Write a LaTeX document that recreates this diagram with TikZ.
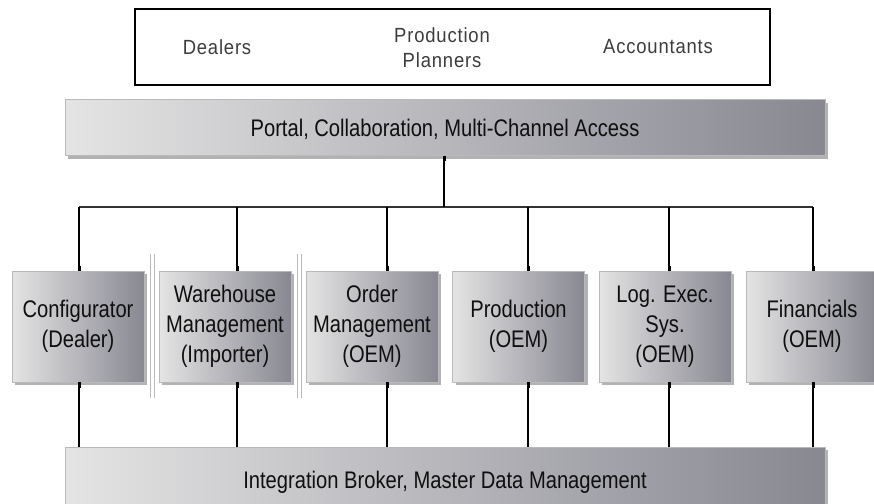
\documentclass[tikz,border=0pt]{standalone}
\usepackage{fontspec}
\setmainfont{Liberation Sans}[FakeStretch=0.84]
\newfontfamily\topfont{Liberation Sans}[FakeStretch=0.9,LetterSpace=4]
\usetikzlibrary{shadows}
\definecolor{glight}{RGB}{228,228,228}
\definecolor{gdark}{RGB}{136,136,146}
\definecolor{txt}{RGB}{15,15,15}
\definecolor{toptxt}{RGB}{60,60,60}
\tikzset{
  gbox/.style={draw=gray!55, line width=0.6pt, left color=glight, right color=gdark,
    inner sep=0pt, text=txt, align=center,
    font=\fontsize{24}{30}\selectfont,
    drop shadow={shadow xshift=3pt, shadow yshift=-3pt, fill=black, opacity=0.3}},
  sysbox/.style={gbox, minimum width=132pt, minimum height=111pt},
  bar/.style={gbox, minimum width=760pt},
  bartext/.style={inner sep=0pt, text=txt, font=\fontsize{24}{30}\selectfont},
  toplabel/.style={inner sep=0pt, text=toptxt, align=center,
    font=\topfont\fontsize{20.5}{25}\selectfont},
  conn/.style={line width=1.3pt, black},
  stub/.style={line width=3pt, black},
  sep/.style={line width=0.9pt, gray!55}
}
\begin{document}
\begin{tikzpicture}[x=1pt, y=-1pt]
\useasboundingbox (0,0) rectangle (874,503);
% top box
\node[draw=black, line width=1.2pt, minimum width=635pt, minimum height=76pt, inner sep=0pt] (users) at (452.5,47) {};
\node[toplabel] (dealers) at (217,47) {Dealers};
\node[toplabel] (planners) at (442,48) {Production\\Planners};
\node[toplabel] (acct) at (658,47) {Accountants};
% portal bar
\node[bar, minimum height=56pt] (portal) at (445,127.5) {};
\node[bartext] (portaltxt) at (445,129) {Portal, Collaboration, Multi-Channel Access};
% system boxes
\node[sysbox] (c1) at (78,326.5) {Configurator\\(Dealer)};
\node[sysbox] (c2) at (225,326.5) {Warehouse\\Management\\(Importer)};
\node[sysbox] (c3) at (372,326.5) {Order\\Management\\(OEM)};
\node[sysbox] (c4) at (518.5,326.5) {Production\\(OEM)};
\node[sysbox] (c5) at (665,326.5) {Log. Exec.\\Sys.\\(OEM)};
\node[sysbox] (c6) at (812,326.5) {Financials\\(OEM)};
% bottom bar
\node[bar, minimum height=68pt] (broker) at (445,481) {};
\node[bartext, anchor=base] (brokertxt) at (445,488) {Integration Broker, Master Data Management};
% bus coordinates
\coordinate (b1) at (79,207);
\coordinate (b2) at (237,207);
\coordinate (b3) at (387,207);
\coordinate (b4) at (528,207);
\coordinate (b5) at (669,207);
\coordinate (b6) at (813,207);
\coordinate (bp) at (444,207);
% bus
\draw[conn, black!80] (b1) -- (b6);
\draw[conn] (portal.south -| bp) -- (bp);
\draw[stub] (portal.south -| bp) -- ++(0,5);
% drops
\foreach \i in {1,...,6}{
  \draw[conn] (b\i) -- (b\i |- c\i.north);
  \draw[stub] (b\i |- c\i.north) -- ++(0,-5);
  \draw[conn] (b\i |- c\i.south) -- (b\i |- broker.north);
  \draw[stub] (b\i |- c\i.south) -- ++(0,6);
}
% separators
\draw[sep] (150,254) -- (150,398);
\draw[sep] (154,254) -- (154,398);
\draw[sep] (297,254) -- (297,398);
\draw[sep] (301,254) -- (301,398);
\end{tikzpicture}
\end{document}
